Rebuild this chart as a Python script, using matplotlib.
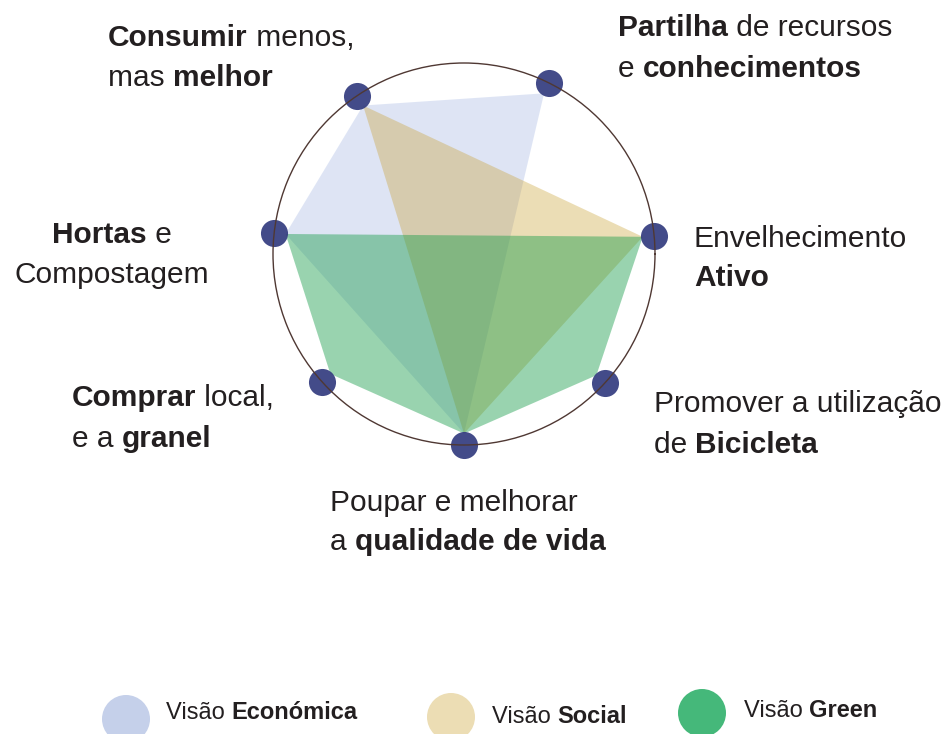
import numpy as np
import matplotlib
matplotlib.use("Agg")
import matplotlib.pyplot as plt
from matplotlib.patches import Circle

# ---------------- data ----------------
categories = ["Envelhecimento Ativo", "Partilha de recursos e conhecimentos",
              "Consumir menos, mas melhor", "Hortas e Compostagem",
              "Comprar local, e a granel", "Poupar e melhorar a qualidade de vida",
              "Promover a utilização de Bicicleta"]
angles_deg = [5.5, 63.5, 124.2, 173.6, 221.9, 270.0, 317.5]

series_names = ["Visão Económica", "Visão Social", "Visão Green"]
economica = [0, 1, 1, 1, 0, 1, 0]
social = [1, 0, 1, 0, 0, 1, 0]
green = [1, 0, 0, 1, 1, 1, 1]
series_values = [economica, social, green]

# label lines: (text, bold) parts
labels = [
    [[("Envelhecimento", False)], [("Ativo", True)]],
    [[("Partilha", True), (" de recursos", False)], [("e ", False), ("conhecimentos", True)]],
    [[("Consumir", True), (" menos,", False)], [("mas ", False), ("melhor", True)]],
    [[("Hortas", True), (" e", False)], [("Compostagem", False)]],
    [[("Comprar", True), (" local,", False)], [("e a ", False), ("granel", True)]],
    [[("Poupar e melhorar", False)], [("a ", False), ("qualidade de vida", True)]],
    [[("Promover a utilização", False)], [("de ", False), ("Bicicleta", True)]],
]
legend_parts = [[("Visão ", False), ("Económica", True)],
                [("Visão ", False), ("Social", True)],
                [("Visão ", False), ("Green", True)]]

# ---------------- style ----------------
FONT = "Liberation Sans"
TXT = "#231f20"
FS = 21.5
fill_colors = ["#becbeb", "#c89e2c", "#149b47"]
fill_alphas = [0.5, 0.35, 0.43]
legend_colors = ["#c5d0ea", "#ecddb4", "#45b87a"]
dot_color = "#353d80"
ring_color = "#4f3833"

W, H = 948, 734
fig = plt.figure(figsize=(W / 100, H / 100), dpi=100)
fig.patch.set_facecolor("white")

# helper axes in pixel units for text / legend
hax = fig.add_axes([0, 0, 1, 1], zorder=0)
hax.set_xlim(0, W)
hax.set_ylim(H, 0)
hax.axis("off")

# polar axes: centre (464, 254), radius 191 px
cx, cy, R = 464, 254, 191
ax = fig.add_axes([(cx - R) / W, (H - cy - R) / H, 2 * R / W, 2 * R / H],
                  projection="polar", zorder=1)
ax.set_ylim(0, 1)
ax.grid(False)
ax.set_xticks([])
ax.set_yticks([])
ax.patch.set_alpha(0)
ax.spines["polar"].set_color(ring_color)
ax.spines["polar"].set_linewidth(1.0)
ax.spines["polar"].set_zorder(5)

theta = np.deg2rad(angles_deg)
r_poly = 0.94
for vals, col, a in zip(series_values, fill_colors, fill_alphas):
    idx = [i for i, v in enumerate(vals) if v]
    ax.fill(theta[idx], [r_poly] * len(idx), color=col, alpha=a, lw=0, zorder=1)

ax.scatter(theta, np.ones(len(theta)), s=380, color=dot_color, alpha=0.93,
           lw=0, clip_on=False, zorder=4)

renderer = fig.canvas.get_renderer()


def rich(x, y, parts, ha="left", size=FS):
    texts = []
    for s, b in parts:
        t = hax.text(0, y, s, fontsize=size, fontweight="bold" if b else "normal",
                     va="baseline", ha="left", color=TXT, family=FONT)
        texts.append(t)
    widths = [t.get_window_extent(renderer).width for t in texts]
    x0 = x - sum(widths) / 2 if ha == "center" else x
    for t, w in zip(texts, widths):
        t.set_x(x0)
        x0 += w


# label layout: (x, first baseline, second baseline, align)
label_pos = [
    (694, 247, 286, "left"),
    (618, 36, 77, "left"),
    (108, 46, 86, "left"),
    (112, 243, 283, "center"),
    (72, 406, 447, "left"),
    (330, 511, 550, "left"),
    (654, 412, 453, "left"),
]
for lines, (x, y1, y2, ha) in zip(labels, label_pos):
    rich(x, y1, lines[0], ha=ha)
    rich(x, y2, lines[1], ha=ha)

# legend
leg_circles = [(126, 719), (451, 717), (702, 713)]
leg_text = [(166, 719), (492, 723), (744, 717)]
for (px, py), (tx, ty), col, parts in zip(leg_circles, leg_text, legend_colors, legend_parts):
    hax.add_patch(Circle((px, py), 24, color=col, lw=0))
    rich(tx, ty, parts, size=17)

fig.savefig("out.png", dpi=100, facecolor="white")
